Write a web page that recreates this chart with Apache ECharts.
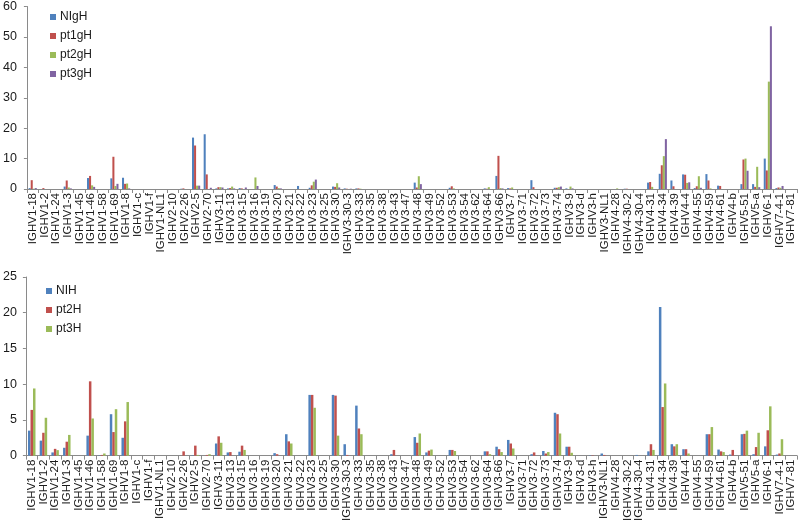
<!DOCTYPE html>
<html>
<head>
<meta charset="utf-8">
<script src="https://cdn.jsdelivr.net/npm/echarts@6/dist/echarts.min.js"></script>
<style>html,body{margin:0;padding:0;background:#fff}#c{width:800px;height:524px}</style>
</head>
<body>
<div id="c"></div>
<script>
const categories = ["IGHV1-18","IGHV1-2","IGHV1-24","IGHV1-3","IGHV1-45","IGHV1-46","IGHV1-58","IGHV1-69","IGHV1-8","IGHV1-c","IGHV1-f","IGHV1-NL1","IGHV2-10","IGHV2-26","IGHV2-5","IGHV2-70","IGHV3-11","IGHV3-13","IGHV3-15","IGHV3-16","IGHV3-19","IGHV3-20","IGHV3-21","IGHV3-22","IGHV3-23","IGHV3-25","IGHV3-30","IGHV3-30-3","IGHV3-33","IGHV3-35","IGHV3-38","IGHV3-43","IGHV3-47","IGHV3-48","IGHV3-49","IGHV3-52","IGHV3-53","IGHV3-54","IGHV3-62","IGHV3-64","IGHV3-66","IGHV3-7","IGHV3-71","IGHV3-72","IGHV3-73","IGHV3-74","IGHV3-9","IGHV3-d","IGHV3-h","IGHV3-NL1","IGHV4-28","IGHV4-30-2","IGHV4-30-4","IGHV4-31","IGHV4-34","IGHV4-39","IGHV4-4","IGHV4-55","IGHV4-59","IGHV4-61","IGHV4-b","IGHV5-51","IGHV5-a","IGHV6-1","IGHV7-4-1","IGHV7-81"];

// Top panel
const NIgH  = [0.3,0,0,0.8,0,3.6,0,3.5,3.7,0,0,0,0,0.1,16.9,18.0,0.2,0.2,0.3,0,0,1.3,0,1.0,0.4,0,0.8,0.2,0.2,0,0,0,0,2.1,0,0,0.4,0,0,0.2,4.3,0.3,0,2.9,0,0.4,0.2,0,0,0,0,0.1,0,2.1,5.0,2.8,4.8,0.3,4.9,1.1,0,1.6,1.6,10.0,0.3,0];
const pt1gH = [2.9,0.3,0,2.8,0,4.3,0,10.6,1.7,0,0,0,0,0.2,14.3,4.8,0.6,0.3,0.2,0,0,0.8,0,0,1.2,0,0.7,0.1,0.2,0,0,0,0,0.5,0,0,0.9,0,0,0.1,10.9,0.2,0,0.6,0,0.4,0,0,0,0,0,0.1,0,2.3,7.8,0.9,4.7,0.9,2.8,1.0,0,9.7,0.7,6.1,0.5,0];
const pt2gH = [0.1,0,0,0.5,0,1.2,0,1.0,1.8,0,0,0,0,0,1.1,0,0.6,0.8,0,3.8,0,0.3,0,0,2.4,0,1.9,0,0.1,0,0,0,0,4.2,0,0,0.2,0,0,0.6,0.3,0.5,0,0,0,0.6,0.8,0,0,0,0.2,0,0,0.7,10.8,0,2.0,4.2,0.2,0,0,10.0,7.3,35.3,0.4,0];
const pt3gH = [0.3,0,0,0.2,0,0.7,0,1.7,0.2,0,0,0,0,0,1.1,0.4,0.5,0.2,0.5,1.0,0,0.2,0,0,3.1,0,0.5,0.1,0,0,0,0,0,1.6,0,0,0,0,0,0,0.2,0,0,0,0,0.8,0.2,0,0,0,0,0,0,0,16.4,0,2.2,0.4,0,0,0,6.0,0.6,53.5,1.0,0];

// Bottom panel
const NIH  = [3.5,2.1,0.45,1.1,0,2.8,0.05,5.8,2.5,0,0,0,0,0,0.05,0,1.7,0.45,0.55,0,0,0.35,3.0,0,8.5,0,8.5,1.6,7.0,0,0,0.2,0,2.6,0.45,0,0.8,0,0,0.6,1.25,2.2,0,0.2,0.65,6.0,1.25,0,0.05,0.3,0,0,0.1,0.6,20.8,1.6,0.9,0,3.0,0.85,0.15,3.0,0.2,1.3,0.15,0];
const pt2H = [6.4,3.2,0.95,1.95,0,10.4,0.1,3.3,4.8,0,0,0,0,0.6,1.4,0.1,2.7,0.5,1.4,0,0,0.2,2.0,0,8.5,0,8.4,0.1,3.8,0,0,0.8,0,1.8,0.7,0,0.8,0,0,0.6,0.9,1.7,0,0.45,0.3,5.8,1.25,0,0.05,0.1,0,0,0,1.6,6.8,1.3,0.9,0,3.0,0.6,0.8,3.05,1.2,3.55,0.3,0];
const pt3H = [9.4,5.3,0.77,2.9,0,5.2,0.3,6.5,7.5,0,0,0,0,0,0.1,0.2,1.8,0,0.8,0,0,0,1.7,0,6.7,0,2.8,0,3.0,0,0,0,0,3.1,0.85,0,0.65,0,0,0.2,0.5,1.0,0,0,0.5,3.1,0.4,0,0,0,0,0,0,0.8,10.1,1.6,0.3,0,4.0,0.5,0,3.5,3.2,6.9,2.3,0];

const topSeries = [["NIgH", NIgH, "#4F81BD"], ["pt1gH", pt1gH, "#C0504D"], ["pt2gH", pt2gH, "#9BBB59"], ["pt3gH", pt3gH, "#8064A2"]];
const botSeries = [["NIH", NIH, "#4F81BD"], ["pt2H", pt2H, "#C0504D"], ["pt3H", pt3H, "#9BBB59"]];

const FONT = "Liberation Sans";
const axisColor = "#8a8a8a";

function xAxis(gridIndex) {
  return {
    type: "category", gridIndex, data: categories,
    axisLine: { lineStyle: { color: axisColor, width: 1 } },
    axisTick: { show: true, length: 4, lineStyle: { color: axisColor } },
    axisLabel: { rotate: 90, interval: 0, fontSize: 11.5, color: "#1a1a1a", fontFamily: FONT, margin: 4 },
    splitLine: { show: false }
  };
}
function yAxis(gridIndex, max, interval, margin) {
  return {
    type: "value", gridIndex, min: 0, max, interval,
    axisLine: { show: true, lineStyle: { color: axisColor, width: 1 } },
    axisTick: { show: true, length: 3, lineStyle: { color: axisColor } },
    axisLabel: { fontSize: 12.5, color: "#1a1a1a", fontFamily: FONT, margin },
    splitLine: { show: false }
  };
}

const series = [];
topSeries.forEach(([name, data, color]) => {
  series.push({ name, type: "bar", xAxisIndex: 0, yAxisIndex: 0, data, itemStyle: { color }, barGap: "0%", barCategoryGap: "30%", silent: true });
});
botSeries.forEach(([name, data, color]) => {
  series.push({ name, type: "bar", xAxisIndex: 1, yAxisIndex: 1, data, itemStyle: { color }, barGap: "0%", barCategoryGap: "36%", silent: true });
});

const legendCommon = {
  orient: "vertical", icon: "rect", itemWidth: 6, itemHeight: 6, itemGap: 5,
  textStyle: { fontSize: 12, color: "#1a1a1a", fontFamily: FONT, lineHeight: 14, padding: [0, 0, 0, -1] }
};

const chart = echarts.init(document.getElementById("c"), null, { renderer: "canvas" });
chart.setOption({
  animation: false,
  backgroundColor: "#fff",
  textStyle: { fontFamily: FONT },
  grid: [
    { left: 22, right: 3, top: 5, height: 184 },
    { left: 21, right: 3, top: 277, height: 183 }
  ],
  legend: [
    Object.assign({}, legendCommon, { data: topSeries.map(s => s[0]), left: 45, top: 5 }),
    Object.assign({}, legendCommon, { data: botSeries.map(s => s[0]), left: 41, top: 279 })
  ],
  xAxis: [xAxis(0), xAxis(1)],
  yAxis: [yAxis(0, 60, 10, 10), yAxis(1, 25, 5, 9)],
  series
});
</script>
</body>
</html>
